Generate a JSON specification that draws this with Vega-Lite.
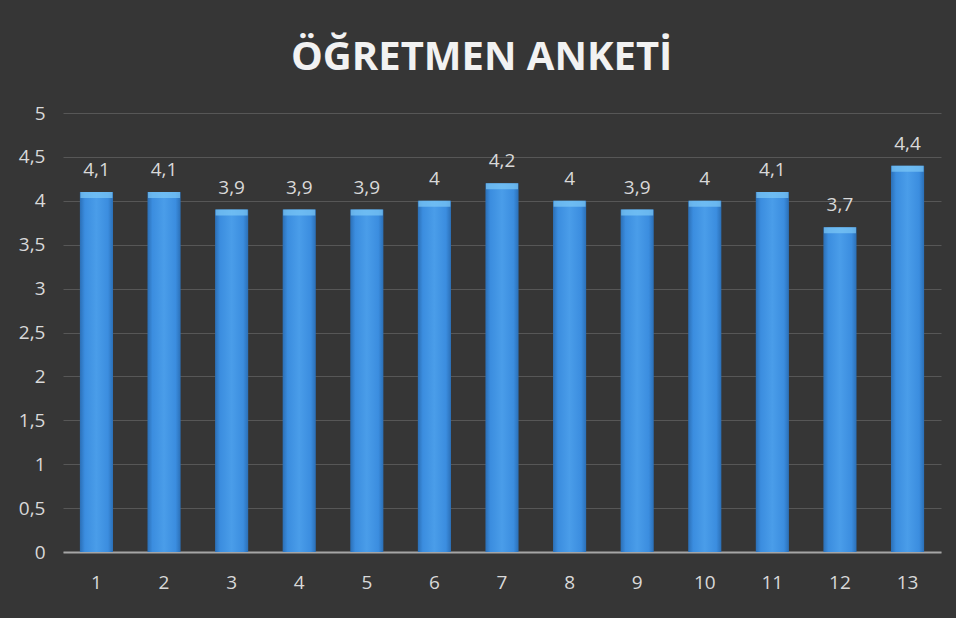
{
  "$schema": "https://vega.github.io/schema/vega-lite/v6.json",
  "width": 878,
  "height": 439,
  "autosize": {"type": "none"},
  "padding": {"left": 63, "top": 113, "right": 15, "bottom": 66},
  "background": "#363636",
  "title": {
    "text": "ÖĞRETMEN ANKETİ",
    "font": "Open Sans",
    "fontSize": 40,
    "fontWeight": "bold",
    "color": "#f2f2f2",
    "limit": 0,
    "frame": "bounds",
    "anchor": "middle",
    "offset": 26,
    "dx": 2
  },
  "data": {
    "values": [
      {"k": "1", "v": 4.1},
      {"k": "2", "v": 4.1},
      {"k": "3", "v": 3.9},
      {"k": "4", "v": 3.9},
      {"k": "5", "v": 3.9},
      {"k": "6", "v": 4},
      {"k": "7", "v": 4.2},
      {"k": "8", "v": 4},
      {"k": "9", "v": 3.9},
      {"k": "10", "v": 4},
      {"k": "11", "v": 4.1},
      {"k": "12", "v": 3.7},
      {"k": "13", "v": 4.4}
    ]
  },
  "encoding": {
    "x": {
      "field": "k",
      "type": "ordinal",
      "sort": null,
      "scale": {"paddingInner": 0.51, "paddingOuter": 0.25},
      "axis": {
        "title": null,
        "labelAngle": 0,
        "labelFont": "Open Sans",
        "labelFontSize": 19,
        "labelColor": "#d9d9d9",
        "labelPadding": 21,
        "ticks": false,
        "domainColor": "#a6a6a6",
        "domainWidth": 2,
        "grid": false
      }
    },
    "y": {
      "field": "v",
      "type": "quantitative",
      "scale": {"domain": [0, 5], "nice": false},
      "axis": {
        "title": null,
        "values": [0, 0.5, 1, 1.5, 2, 2.5, 3, 3.5, 4, 4.5, 5],
        "format": "~g",
        "labelFont": "Open Sans",
        "labelFontSize": 19,
        "labelColor": "#d9d9d9",
        "labelPadding": 18,
        "ticks": false,
        "domain": false,
        "grid": true,
        "gridColor": "#575757",
        "gridWidth": 1
      }
    }
  },
  "layer": [
    {
      "mark": {
        "type": "bar",
        "color": {
          "gradient": "linear",
          "x1": 0, "x2": 1, "y1": 0, "y2": 0,
          "stops": [
            {"offset": 0, "color": "#2b6fb6"},
            {"offset": 0.15, "color": "#3b8ddf"},
            {"offset": 0.5, "color": "#4a9de9"},
            {"offset": 0.85, "color": "#3b8ddf"},
            {"offset": 1, "color": "#2b6fb6"}
          ]
        }
      }
    },
    {
      "mark": {"type": "tick", "color": "#7ec9f7", "thickness": 6, "size": 32, "yOffset": 3}
    },
    {
      "mark": {"type": "text", "font": "Open Sans", "fontSize": 19, "color": "#d9d9d9", "baseline": "bottom", "dy": -12},
      "encoding": {"text": {"field": "v", "type": "quantitative", "format": "~g"}}
    }
  ],
  "config": {
    "locale": {"number": {"decimal": ",", "thousands": ".", "grouping": [3], "currency": ["", " TL"]}},
    "view": {"stroke": null}
  }
}
